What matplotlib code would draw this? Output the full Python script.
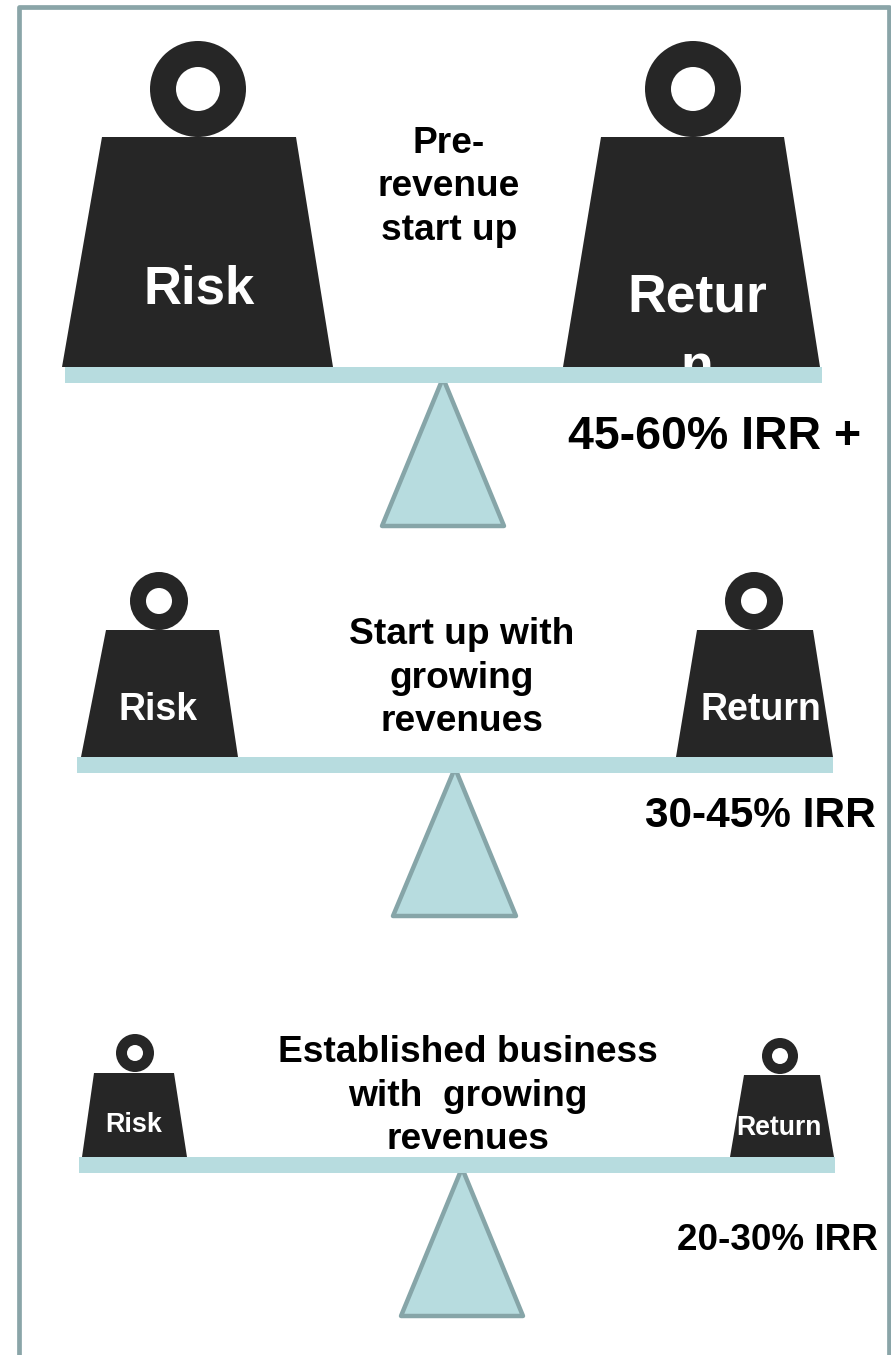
import matplotlib
matplotlib.use("Agg")
import matplotlib.pyplot as plt
from matplotlib.patches import Polygon, Circle, Rectangle

W, H = 891, 1355
DARK = "#262626"
TEAL = "#b7dcdf"
EDGE = "#86a5a8"
plt.rcParams['font.family'] = ['Liberation Sans', 'DejaVu Sans']

stage_labels = ["Pre-\nrevenue\nstart up", "Start up with\ngrowing\nrevenues", "Established business\nwith  growing\nrevenues"]
irr_labels = ["45-60% IRR +", "30-45% IRR", "20-30% IRR"]
weight_labels = ["Risk", "Return"]

fig = plt.figure(figsize=(W/100, H/100), dpi=100)
ax = fig.add_axes([0, 0, 1, 1])
ax.set_xlim(0, W); ax.set_ylim(H, 0); ax.axis("off")

# frame
ax.plot([18.5, 18.5, 889, 889], [H, 6.5, 6.5, H], color="#8aa5a8", lw=3.4, solid_joinstyle="round", solid_capstyle="butt")

def weight(xl0, xl1, xt0, xt1, ytop, ybot, cx, cy, r_out, r_in):
    ax.add_patch(Circle((cx, cy), r_out, fc=DARK, ec="none", zorder=2))
    ax.add_patch(Circle((cx, cy), r_in, fc="white", ec="none", zorder=3))
    ax.add_patch(Polygon([(xl0, ybot), (xt0, ytop), (xt1, ytop), (xl1, ybot)], fc=DARK, ec="none", zorder=2))

def scale(bx0, bx1, by0, by1, ax_, ay0, ax0, ax1, ay1):
    ax.add_patch(Polygon([(ax_, ay0), (ax1, ay1), (ax0, ay1)], fc=TEAL, ec=EDGE, lw=3.2, joinstyle="round", zorder=3))
    ax.add_patch(Rectangle((bx0, by0), bx1-bx0, by1-by0, fc=TEAL, ec="none", zorder=4))

# top
weight(62, 333, 102, 296, 137, 367, 198, 89, 48, 22)
weight(563, 820, 601, 784, 137, 367, 693, 89, 48, 22)
scale(65, 822, 367, 383, 443, 378, 382, 504, 526)
# middle
weight(81, 238, 106, 219, 630, 757, 159, 601, 29, 13)
weight(676, 833, 697, 813, 630, 757, 754, 601, 29, 13)
scale(77, 833, 757, 773, 455, 768, 393, 516, 916)
# bottom
weight(82, 187, 94, 174, 1073, 1157, 135, 1053, 19, 8)
weight(730, 834, 744, 820, 1075, 1157, 780, 1056, 18, 8)
scale(79, 835, 1157, 1173, 462, 1168, 401, 523, 1316)

def t(x, y, s, size, color="black", z=6, **kw):
    ax.text(x, y, s, fontsize=size, color=color, fontweight="bold", ha="center", va="center", zorder=z, **kw)

# centre stage labels
t(449, 187, stage_labels[0], 26.7, linespacing=1.31)
t(462, 678, stage_labels[1], 26.7, linespacing=1.31)
t(468, 1096, stage_labels[2], 26.7, linespacing=1.31)
# IRR
t(715, 437, irr_labels[0], 33.5)
t(760, 816, irr_labels[1], 30.5)
t(777, 1240, irr_labels[2], 26.6)
# weights
t(199, 289, weight_labels[0], 38, color="white")
t(697, 298, "Retur", 38.5, color="white")
clip = Rectangle((560, 340), 270, 27, transform=ax.transData)
tn = ax.text(697, 368, "n", fontsize=38.5, color="white", fontweight="bold", ha="center", va="center", zorder=3)
tn.set_clip_path(clip)
t(158, 710, weight_labels[0], 27, color="white")
t(761, 710, weight_labels[1], 27, color="white")
t(134, 1125, weight_labels[0], 19.4, color="white")
t(779, 1128, weight_labels[1], 19.2, color="white")

fig.savefig("out.png", dpi=100, facecolor="white")
